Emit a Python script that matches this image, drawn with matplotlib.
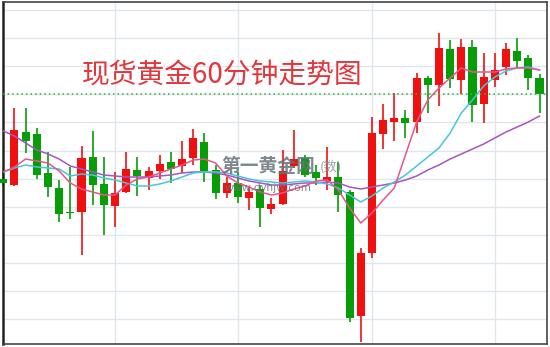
import numpy as np
import matplotlib
matplotlib.use("Agg")
import matplotlib.pyplot as plt

plt.rcParams['font.family'] = ['Noto Sans CJK SC', 'DejaVu Sans']

title = "现货黄金60分钟走势图"

# 60-minute gold candles
opens = [1291.5, 1290.9, 1296.2, 1296.0, 1292.1, 1290.6, 1288.2, 1288.2, 1293.7, 1291.0,
         1288.8, 1290.2, 1292.4, 1291.6, 1292.3, 1293.2, 1292.8, 1293.6, 1295.2, 1292.4,
         1290.1, 1291.1, 1289.6, 1290.5, 1288.5, 1289.0, 1292.8, 1293.6, 1292.2, 1291.3,
         1291.7, 1290.2, 1277.8, 1284.1, 1296.0, 1297.2, 1297.6, 1297.2, 1301.6, 1300.9,
         1304.5, 1301.4, 1304.7, 1299.0, 1301.4, 1302.7, 1304.3, 1303.6, 1301.6]
highs = [1292.2, 1298.6, 1298.6, 1296.6, 1294.2, 1291.4, 1292.7, 1294.8, 1296.3, 1293.7,
         1292.2, 1294.2, 1293.7, 1292.7, 1293.9, 1294.2, 1295.3, 1296.5, 1296.1, 1292.9,
         1291.7, 1292.2, 1290.7, 1290.9, 1289.6, 1294.4, 1296.4, 1293.9, 1292.9, 1294.7,
         1293.2, 1290.4, 1284.6, 1297.7, 1299.0, 1300.1, 1298.4, 1302.1, 1301.8, 1306.1,
         1305.4, 1305.5, 1305.4, 1304.1, 1304.1, 1305.1, 1305.6, 1303.9, 1302.0]
lows = [1290.8, 1290.8, 1294.1, 1291.5, 1289.7, 1287.2, 1287.5, 1283.9, 1288.9, 1285.9,
        1286.7, 1290.1, 1289.8, 1290.4, 1291.5, 1291.1, 1292.1, 1292.9, 1291.2, 1289.5,
        1289.6, 1289.1, 1288.4, 1286.7, 1288.0, 1288.9, 1292.6, 1291.7, 1290.9, 1290.4,
        1288.2, 1277.2, 1275.2, 1283.6, 1294.5, 1295.3, 1295.6, 1296.1, 1298.1, 1298.8,
        1300.6, 1300.0, 1297.2, 1297.1, 1300.7, 1301.9, 1302.5, 1300.4, 1298.1]
closes = [1291.1, 1296.4, 1295.3, 1291.9, 1290.7, 1288.0, 1288.1, 1293.6, 1290.9, 1288.9,
          1290.1, 1292.5, 1291.8, 1292.3, 1293.0, 1292.5, 1293.5, 1295.6, 1292.3, 1290.1,
          1291.1, 1289.7, 1290.2, 1288.6, 1289.0, 1292.3, 1293.5, 1291.9, 1291.6, 1291.7,
          1289.9, 1277.6, 1284.1, 1296.1, 1297.4, 1297.6, 1297.1, 1301.6, 1300.9, 1304.6,
          1301.5, 1304.7, 1298.9, 1301.7, 1302.4, 1304.5, 1303.3, 1301.6, 1300.0]

# moving average lines as drawn on the chart
ma_fast = [1292.2, 1292.7, 1293.5, 1293.3, 1293.1, 1292.3, 1291.1, 1290.5, 1290.2, 1289.9,
           1289.9, 1290.9, 1291.5, 1291.7, 1292.1, 1292.5, 1292.9, 1293.4, 1293.5, 1293.1,
           1291.8, 1291.1, 1290.7, 1290.2, 1289.9, 1290.1, 1290.5, 1290.8, 1291.3, 1291.4,
           1290.4, 1288.6, 1287.1, 1288.1, 1289.4, 1290.6, 1293.9, 1297.2, 1299.4, 1300.6,
           1301.6, 1302.6, 1302.2, 1302.2, 1302.2, 1302.5, 1302.6, 1302.6, 1302.4]
ma_mid = [1292.2, 1292.6, 1292.9, 1292.7, 1292.6, 1292.5, 1291.8, 1292.0, 1291.9, 1291.6,
          1291.4, 1291.1, 1290.8, 1290.8, 1291.0, 1291.3, 1291.7, 1292.1, 1292.2, 1292.2,
          1292.1, 1291.8, 1291.5, 1291.3, 1291.2, 1291.1, 1291.2, 1291.3, 1291.2, 1291.0,
          1290.6, 1289.9, 1289.2, 1289.8, 1290.6, 1291.2, 1291.9, 1292.8, 1293.7, 1294.6,
          1296.1, 1298.1, 1299.4, 1300.8, 1301.7, 1302.3, 1302.6, 1302.7, 1302.4]
ma_slow = [1296.3, 1295.8, 1295.1, 1294.4, 1294.0, 1293.5, 1292.8, 1292.5, 1292.2, 1291.9,
           1291.8, 1291.7, 1291.7, 1291.7, 1291.8, 1291.9, 1292.1, 1292.2, 1292.2, 1292.1,
           1291.9, 1291.6, 1291.3, 1291.1, 1290.9, 1290.9, 1291.0, 1291.1, 1291.1, 1291.2,
           1291.1, 1290.7, 1290.5, 1290.7, 1290.9, 1291.1, 1291.4, 1291.8, 1292.4, 1292.9,
           1293.5, 1294.0, 1294.5, 1295.0, 1295.6, 1296.2, 1296.7, 1297.2, 1297.8]

ref_level = 1300.0
day_breaks = [10, 21, 33, 44]

RED = '#f01010'
GREEN = '#079d07'

o = np.array(opens)
c = np.array(closes)
h = np.array(highs)
l = np.array(lows)
x = np.arange(len(o))
up = c >= o
colors = np.where(up, RED, GREEN)

fig = plt.figure(figsize=(5.5, 3.47), dpi=100)
ax = fig.add_axes([2.7 / 550, 3 / 347, 544.3 / 550, 342 / 347])

ax.set_xlim(-0.054, 48.67)
ax.set_ylim(1275.0, 1309.2)

# grid
for lvl in 1308.4 - 2.81 * np.arange(12):
    ax.axhline(lvl, color='#dfe6ec', lw=1.0, zorder=0)
for b in day_breaks:
    ax.axvline(b, color='#dfe6ec', lw=1.0, zorder=0)

# candles
ax.vlines(x, l, h, colors=colors, lw=1.2, zorder=2, clip_on=False)
body_low = np.minimum(o, c)
body_h = np.maximum(np.abs(c - o), 0.12)
ax.bar(x, body_h, bottom=body_low, width=0.72, color=colors, lw=0, zorder=3, clip_on=False)

# moving averages
ax.plot(x, ma_slow, color='#a655c2', lw=1.1, zorder=4)
ax.plot(x, ma_mid, color='#45c6dc', lw=1.1, zorder=4)
ax.plot(x, ma_fast, color='#e7558d', lw=1.1, zorder=4)

ax.axhline(ref_level, color='#2fb52f', lw=1.1, ls=(0, (1, 2)), zorder=5)

ax.set_xticks([])
ax.set_yticks([])
for side in ['top', 'right', 'bottom']:
    ax.spines[side].set_color('#444444')
    ax.spines[side].set_linewidth(1.2)
ax.spines['left'].set_color('#222222')
ax.spines['left'].set_linewidth(1.8)

# title
fig.text(222 / 550, 1 - 76 / 347, title, color='#e2363d', fontsize=20,
         ha='center', va='center')

# watermark
fig.text(268 / 550, 1 - 167 / 347, "第一黄金网", color='#66737c', alpha=0.85,
         fontsize=13.5, fontweight='bold', ha='center', va='center', zorder=10)
fig.text(331 / 550, 1 - 167 / 347, "(数)", color='#7d8890', alpha=0.8,
         fontsize=9.5, ha='center', va='center', zorder=10)
fig.text(268 / 550, 1 - 188 / 347, "www.dyhjw.com", color='#66737c', alpha=0.85,
         fontsize=8, ha='center', va='center', zorder=10)

fig.savefig("out.png", dpi=100)
